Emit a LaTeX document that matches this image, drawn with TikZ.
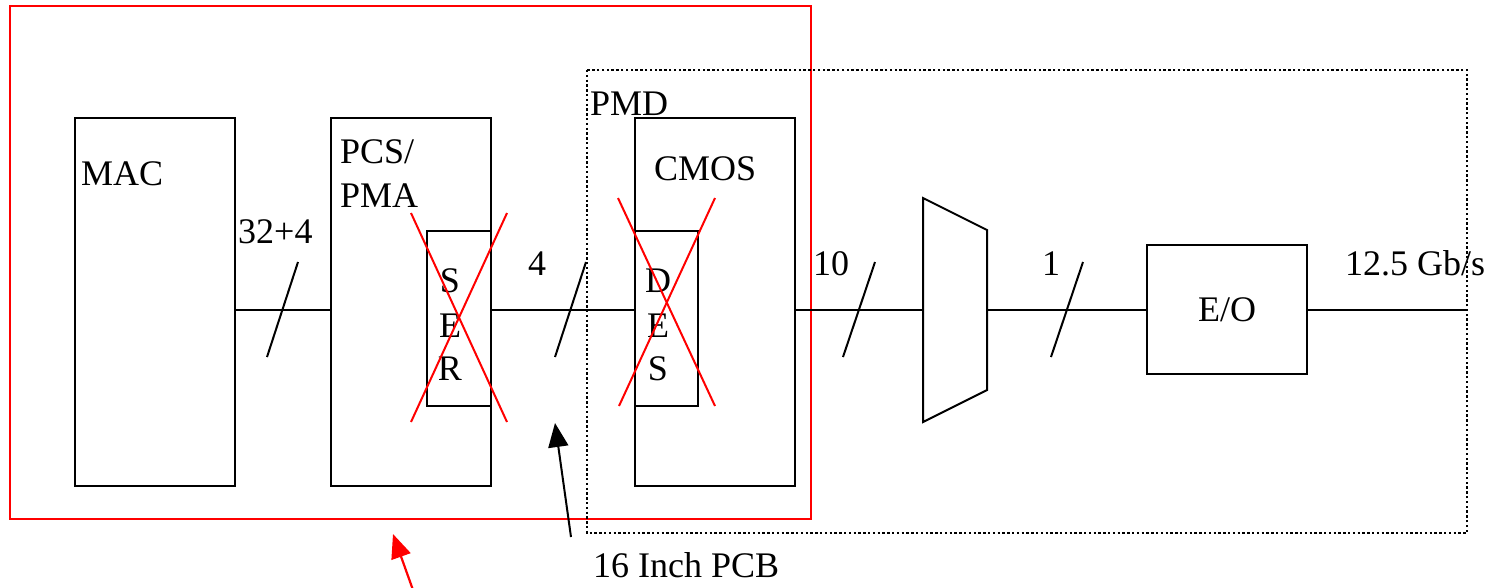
\documentclass[tikz,border=0pt]{standalone}
\usepackage{fontspec}
\setmainfont{Liberation Serif}
\usetikzlibrary{arrows.meta}
\begin{document}
\begin{tikzpicture}[x=1pt,y=-1pt,
  lbl/.style={inner sep=0pt,font=\fontsize{36}{42}\selectfont},
  blk/.style={draw=black,line width=2pt},
  wire/.style={draw=black,line width=2pt},
  cross/.style={draw=red,line width=2pt},
  slash/.style={draw=black,line width=2pt}]
\useasboundingbox (0,0) rectangle (1492,587);
% outer boxes
\draw[red,line width=2pt] (10,6) rectangle (811,519);
\draw[black,line width=2.4pt,dash pattern=on 2.4pt off 2.4pt] (587,70) rectangle (1467,533);
% blocks
\node[blk,minimum width=160pt,minimum height=368pt,inner sep=0pt] (mac) at (155,302) {};
\node[blk,minimum width=160pt,minimum height=368pt,inner sep=0pt] (pcs) at (411,302) {};
\node[blk,minimum width=160pt,minimum height=368pt,inner sep=0pt] (cmos) at (715,302) {};
\node[blk,fill=white,minimum width=64pt,minimum height=175pt,inner sep=0pt] (ser) at (459,318.5) {};
\node[blk,fill=white,minimum width=63pt,minimum height=175pt,inner sep=0pt] (des) at (666.5,318.5) {};
\node[blk,minimum width=160pt,minimum height=129pt,inner sep=0pt] (eo) at (1227,309.5) {};
\node[lbl] at (eo.center) {E/O};
% mux
\coordinate (muxL) at (923,310);
\coordinate (muxR) at (987,310);
\draw[blk,line join=miter] (923,198) -- (987,230) -- (987,390) -- (923,422) -- cycle;
\coordinate (out) at (1467,310);
% wires
\draw[wire] (mac.east |- 0,310) -- (pcs.west |- 0,310);
\draw[wire] (ser.east |- 0,310) -- (des.west |- 0,310);
\draw[wire] (cmos.east |- 0,310) -- (muxL);
\draw[wire] (muxR) -- (eo.west |- 0,310);
\draw[wire] (eo.east |- 0,310) -- (out);
% slashes
\draw[slash] (267,357) -- (298,262);
\draw[slash] (555,357) -- (586,262);
\draw[slash] (843,357) -- (875,262);
\draw[slash] (1051,357) -- (1083,262);
% labels
\node[lbl,anchor=base west] (tmac) at (81,185) {MAC};
\node[lbl,anchor=base west] (tpcs) at (340,163) {PCS/};
\node[lbl,anchor=base west] (tpma) at (340,207) {PMA};
\node[lbl,anchor=base west] (tcmos) at (654,180) {CMOS};
\node[lbl,anchor=base west] (tpmd) at (590,115) {PMD};
\node[lbl,anchor=base west] (t32) at (238,243) {32+4};
\node[lbl,anchor=base] (t4) at (537,275) {4};
\node[lbl,anchor=base west] (t10) at (813,275) {10};
\node[lbl,anchor=base] (t1) at (1051,275) {1};
\node[lbl,anchor=base west] (t125) at (1345,275) {12.5 Gb/s};
\node[lbl,anchor=base] (s1) at (450,292) {S};
\node[lbl,anchor=base] (s2) at (450,337) {E};
\node[lbl,anchor=base] (s3) at (450,380) {R};
\node[lbl,anchor=base] (d1) at (658,292) {D};
\node[lbl,anchor=base] (d2) at (658,337) {E};
\node[lbl,anchor=base] (d3) at (658,380) {S};
\node[lbl,anchor=base west] (pcb) at (593,577) {16 Inch PCB};
% crosses
\draw[cross] (411,213) -- (507,422);
\draw[cross] (507,213) -- (411,422);
\draw[cross] (618,198) -- (715,406);
\draw[cross] (715,198) -- (619,406);
% arrows
\coordinate (pcbtail) at (571,537);
\coordinate (pcbtip) at (555,423);
\draw[black,line width=2pt,-{Triangle[length=24pt,width=20pt]}] (pcbtail) -- (pcbtip);
\coordinate (redtail) at (413,590);
\coordinate (redtip) at (393,534);
\draw[red,line width=2.2pt,-{Triangle[length=24pt,width=20pt]}] (redtail) -- (redtip);
\end{tikzpicture}
\end{document}
